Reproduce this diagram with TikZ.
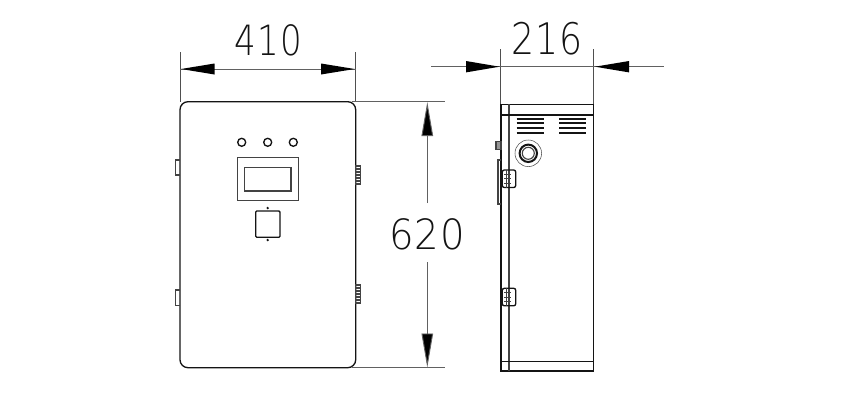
\documentclass[tikz,border=0pt]{standalone}
\usepackage{fontspec}
\usepackage{graphicx}
\setmainfont{DejaVu Sans ExtraLight}
\newfontfamily\dimfont[LetterSpace=3]{DejaVu Sans ExtraLight}
\usetikzlibrary{arrows.meta}
\definecolor{ink}{gray}{0.08}
\definecolor{dimink}{gray}{0.38}
\tikzset{
  x=0.75pt,y=-0.75pt,
  body/.style={draw=ink,line width=1pt},
  thinbody/.style={draw=ink!80!white,line width=0.85pt},
  hair/.style={draw=ink!75!white,line width=0.4pt},
  ext/.style={draw=dimink,line width=0.55pt},
  vent/.style={draw=ink,line width=1.25pt},
  dimtip/.style={-{Triangle[length=25.5pt,width=8.6pt,fill=black]}},
  dimline/.style={draw=dimink,line width=0.7pt},
  dimtext/.style={inner sep=0pt,text=ink,font=\dimfont\fontsize{32}{32}\selectfont},
}
\begin{document}
\begin{tikzpicture}
\useasboundingbox (0,0) rectangle (842,418);
\fill[white] (0,0) rectangle (842,418);
% named coordinates for dimension ends
\coordinate (wl) at (180,69); \coordinate (wr) at (355.7,69);
\coordinate (dl) at (500.7,66.7); \coordinate (dr) at (593.7,66.7);
\coordinate (dlo) at (431,66.7); \coordinate (dro) at (664,66.7);
\coordinate (ht) at (427.3,102); \coordinate (hb) at (427.3,367.5);
\coordinate (hm1) at (427.3,203); \coordinate (hm2) at (427.3,262);
% extension lines
\draw[hair] (180,52) -- (180,102);
\draw[hair] (355.7,52) -- (355.7,102);
\draw[hair] (500.7,49) -- (500.7,104);
\draw[hair] (593.3,49) -- (593.3,104);
\draw[ext] (352,101.7) -- (445,101.7);
\draw[ext] (352,367.7) -- (445,367.7);
% dimension arrows
\draw[dimline,dimtip] (hm1) -- (ht);
\draw[dimline,dimtip] (hm2) -- (hb);
\draw[dimline] (wl) -- (wr);
\draw[dimline] (dlo) -- (dro);
\fill[black] (181,69) -- (214.5,63.5) -- (214.5,74.5) -- cycle;
\fill[black] (354.7,69) -- (321,63.5) -- (321,74.5) -- cycle;
\fill[black] (499.5,66.7) -- (466,61) -- (466,72.4) -- cycle;
\fill[black] (595,66.7) -- (629,61) -- (629,72.4) -- cycle;
% dimension texts
\node[dimtext] (t410) at (268.5,40.5) {\resizebox{50.3pt}{23.2pt}{410}};
\node[dimtext] (t216) at (547.4,39) {\resizebox{53.5pt}{24.2pt}{216}};
\node[dimtext] (t620) at (427,234.5) {\resizebox{57pt}{23.2pt}{620}};
% front panel
\draw[body,rounded corners=6pt] (180,101.7) rectangle (355.7,367.7);
\foreach \a/\b in {160/175,290/305.7}{
  \draw[thinbody] (180,\a) -- (175.3,\a) -- (175.3,\b) -- (180,\b);
}
\foreach \a in {166,285}{
  \draw[thinbody] (355.7,\a) rectangle (360.3,\a+18);
  \foreach \k in {3,6,...,15} \draw[thinbody] (356,\a+\k) -- (360.3,\a+\k);
}
\foreach \cx in {241.7,267.7,293.3} \draw[body] (\cx,142.3) circle[radius=4];
\draw[thinbody] (237.7,157.7) rectangle (298.3,200.3);
\draw[thinbody] (244.3,167.3) rectangle (291,191);
\draw[body,rounded corners=0.8pt] (255.7,211) rectangle (280,237.3);
\fill[ink] (267.7,208) circle[radius=1.3];
\fill[ink] (267.7,240) circle[radius=1.3];
% side view
\draw[body] (501,104.3) rectangle (593.3,371);
\draw[thinbody] (509,104.3) -- (509,371);
\draw[body] (501,115) -- (593.3,115);
\draw[body] (501,361.7) -- (593.3,361.7);
\foreach \y in {119.3,123.3,127.7,133.3}{
  \draw[vent] (516.7,\y) -- (544,\y);
  \draw[vent] (559,\y) -- (586,\y);
}
\draw[hair] (528.3,153.3) circle[radius=13.3];
\draw[draw=ink,line width=1.5pt] (528.3,153.3) circle[radius=8.7];
\draw[thinbody] (528.3,153.3) circle[radius=6];
\draw[thinbody,fill=ink!45!white] (496,141.7) rectangle (501,149.3);
\draw[thinbody] (501,160) -- (498,160) -- (498,204) -- (501,204);
\foreach \a in {170,288.3}{
  \draw[body,rounded corners=1.5pt] (502.3,\a) rectangle (515.7,\a+17.5);
  \foreach \k in {4.4,8.8,13.1} \draw[thinbody] (504,\a+\k) -- (511,\a+\k);
  \draw[thinbody] (506.5,\a) -- (506.5,\a+17.5);
}
\end{tikzpicture}
\end{document}
